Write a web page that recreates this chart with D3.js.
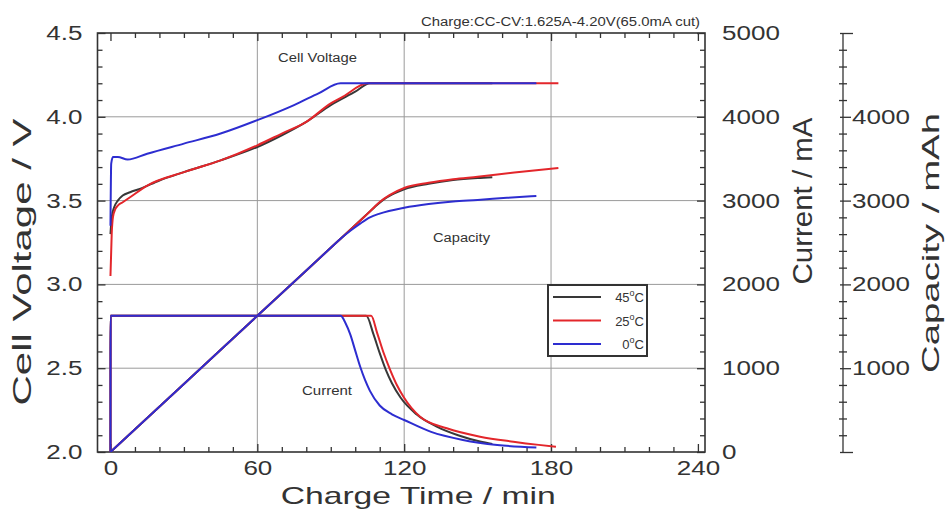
<!DOCTYPE html>
<html>
<head>
<meta charset="utf-8">
<script src="https://cdn.jsdelivr.net/npm/d3@7"></script>
<style>
  body { margin: 0; background: #fff; }
  text { font-family: "Liberation Sans", Arial, sans-serif; fill: #333; }
</style>
</head>
<body>
<div id="chart"></div>
<script>
// series: [time (min), value]
const volt45 = [[0,3.30],[0.5,3.40],[1.5,3.46],[3,3.50],[5,3.53],[8,3.55],[12,3.57],[20,3.62],[30,3.67],[45,3.74],[60,3.82],[70,3.89],[80,3.97],[90,4.07],[100,4.15],[106,4.2],[156,4.2]];
const volt25 = [[0,3.05],[0.5,3.30],[1,3.40],[2,3.45],[3,3.47],[5,3.49],[8,3.52],[15,3.59],[30,3.67],[45,3.74],[60,3.83],[70,3.90],[80,3.97],[90,4.08],[95,4.12],[105,4.2],[183,4.2]];
const volt0  = [[0,3.35],[0.3,3.72],[1,3.76],[3,3.76],[7,3.745],[15,3.78],[30,3.84],[45,3.90],[60,3.98],[75,4.07],[85,4.14],[94,4.2],[174,4.2]];

const cap45 = [[0,0],[30,812],[60,1625],[90,2437],[104,2816],[108,2925],[112,3020],[116,3085],[120,3135],[130,3200],[140,3245],[150,3270],[156,3280]];
const cap25 = [[0,0],[30,812],[60,1625],[90,2437],[106,2870],[110,2983],[114,3065],[120,3150],[130,3212],[140,3255],[150,3285],[165,3335],[183,3390]];
const cap0  = [[0,0],[30,812],[60,1625],[90,2437],[94,2545],[98,2640],[102,2725],[106,2800],[110,2845],[120,2915],[130,2960],[140,2990],[150,3008],[162,3033],[174,3055]];

const cur45 = [[0,0],[0.05,1625],[104.5,1625],[107.5,1400],[110,1180],[112.5,980],[115,820],[118.5,650],[125,450],[133.5,300],[142,200],[151,125],[156,95]];
const cur25 = [[0,0],[0.05,1625],[106.5,1625],[109,1416],[111.5,1190],[114.3,978],[117,800],[119.7,660],[126.5,421],[137.4,283],[151,183],[164.6,123],[175,85],[182,63]];
const cur0  = [[0,0],[0.05,1625],[94,1625],[96,1540],[98,1400],[100,1210],[102,1020],[104,860],[106,730],[110,555],[115,450],[120,382],[131,240],[144,144],[158,84],[174,55]];

const legendLabels = ["45", "25", "0"];
const seriesColors = ["#383838", "#e3262b", "#2d2dd0"];

const voltTicks = [2.0, 2.5, 3.0, 3.5, 4.0, 4.5];
const timeTicks = [0, 60, 120, 180, 240];
const currentTicks = [0, 1000, 2000, 3000, 4000, 5000];
const capacityTicks = [1000, 2000, 3000, 4000];

const width = 946, height = 513;
const pLeft = 97.5, pRight = 705, pTop = 33, pBottom = 452;

const svg = d3.select("#chart").append("svg")
    .attr("width", width)
    .attr("height", height);

const x = d3.scaleLinear().domain([-5.3, 242.9]).range([pLeft, pRight]);
const yV = d3.scaleLinear().domain([2.0, 4.5]).range([pBottom, pTop]);
const yC = d3.scaleLinear().domain([0, 5000]).range([pBottom, pTop]);

// stretch text horizontally, the original lettering is wide
function widen(sel, k) {
    sel.each(function () {
        const len = this.getComputedTextLength();
        d3.select(this).attr("textLength", len * k).attr("lengthAdjust", "spacingAndGlyphs");
    });
}

// grid
const grid = svg.append("g").attr("stroke", "#9a9a9a").attr("stroke-width", 1);
grid.selectAll(".gx").data([60, 120, 180]).join("line")
    .attr("x1", d => x(d)).attr("x2", d => x(d)).attr("y1", pTop).attr("y2", pBottom);
grid.selectAll(".gy").data([2.5, 3.0, 3.5, 4.0]).join("line")
    .attr("x1", pLeft).attr("x2", pRight).attr("y1", d => yV(d)).attr("y2", d => yV(d));

// axes
function styleAxis(g) {
    g.select(".domain").remove();
    g.selectAll(".tick line").attr("stroke", "#333").attr("stroke-width", 1.3);
    g.selectAll("text").attr("font-size", 20).style("fill", "#333");
}
const minorT = d3.range(0, 241, 10).filter(d => d % 60 !== 0);
const minorV = d3.range(20, 46, 1).filter(d => d % 5 !== 0).map(d => d / 10);
const minorC = d3.range(0, 5001, 200).filter(d => d % 1000 !== 0);
const intFmt = d3.format("d");

svg.append("g").attr("transform", `translate(0,${pBottom})`)
    .call(d3.axisBottom(x).tickValues(timeTicks).tickFormat(intFmt).tickSizeInner(-8).tickSizeOuter(0).tickPadding(9))
    .call(styleAxis);
svg.append("g").attr("transform", `translate(0,${pBottom})`)
    .call(d3.axisBottom(x).tickValues(minorT).tickSize(-5).tickFormat(""))
    .call(styleAxis);
svg.append("g").attr("transform", `translate(0,${pTop})`)
    .call(d3.axisTop(x).tickValues(timeTicks).tickSize(-8).tickFormat(""))
    .call(styleAxis);
svg.append("g").attr("transform", `translate(0,${pTop})`)
    .call(d3.axisTop(x).tickValues(minorT).tickSize(-5).tickFormat(""))
    .call(styleAxis);

svg.append("g").attr("transform", `translate(${pLeft},0)`)
    .call(d3.axisLeft(yV).tickValues(voltTicks).tickFormat(d3.format(".1f")).tickSizeInner(-8).tickSizeOuter(0).tickPadding(15))
    .call(styleAxis);
svg.append("g").attr("transform", `translate(${pLeft},0)`)
    .call(d3.axisLeft(yV).tickValues(minorV).tickSize(-5).tickFormat(""))
    .call(styleAxis);

svg.append("g").attr("transform", `translate(${pRight},0)`)
    .call(d3.axisRight(yC).tickValues(currentTicks).tickFormat(intFmt).tickSizeInner(-8).tickSizeOuter(0).tickPadding(17))
    .call(styleAxis);
svg.append("g").attr("transform", `translate(${pRight},0)`)
    .call(d3.axisRight(yC).tickValues(minorC).tickSize(-5).tickFormat(""))
    .call(styleAxis);

// separate capacity axis
const capX = 843;
svg.append("line").attr("x1", capX).attr("x2", capX).attr("y1", yC(0)).attr("y2", yC(5000))
    .attr("stroke", "#333").attr("stroke-width", 1.3);
svg.append("g").attr("transform", `translate(${capX},0)`)
    .call(d3.axisRight(yC).tickValues(capacityTicks).tickFormat(intFmt).tickSizeInner(8).tickSizeOuter(0).tickPadding(1))
    .call(styleAxis);
svg.append("g").attr("transform", `translate(${capX},0)`)
    .call(d3.axisRight(yC).tickValues([0, 5000]).tickSize(10).tickFormat(""))
    .call(styleAxis);
svg.append("g").attr("transform", `translate(${capX},0)`)
    .call(d3.axisLeft(yC).tickValues([0, 1000, 2000, 3000, 4000, 5000]).tickSize(3).tickFormat(""))
    .call(styleAxis);
svg.append("g").attr("transform", `translate(${capX - 4},0)`)
    .call(d3.axisRight(yC).tickValues(minorC).tickSize(8).tickFormat(""))
    .call(styleAxis);

svg.selectAll(".tick text").call(widen, 1.3);

// frame
svg.append("rect").attr("x", pLeft).attr("y", pTop).attr("width", pRight - pLeft).attr("height", pBottom - pTop)
    .attr("fill", "none").attr("stroke", "#333").attr("stroke-width", 1.6);

// curves
svg.append("clipPath").attr("id", "clip").append("rect")
    .attr("x", pLeft).attr("y", pTop).attr("width", pRight - pLeft).attr("height", pBottom - pTop);
const plot = svg.append("g").attr("clip-path", "url(#clip)");

const lineV = d3.line().x(d => x(d[0])).y(d => yV(d[1])).curve(d3.curveMonotoneX);
const lineC = d3.line().x(d => x(d[0])).y(d => yC(d[1])).curve(d3.curveMonotoneX);

const groups = [
    { gen: lineC, data: [cur45, cur25, cur0] },
    { gen: lineC, data: [cap45, cap25, cap0] },
    { gen: lineV, data: [volt45, volt25, volt0] }
];
groups.forEach(grp => {
    grp.data.forEach((s, i) => {
        plot.append("path").datum(s).attr("d", grp.gen)
            .attr("fill", "none").attr("stroke", seriesColors[i]).attr("stroke-width", 2);
    });
});

// annotations
function note(txt, px, py, size, len) {
    svg.append("text").attr("x", px).attr("y", py).attr("font-size", size)
        .attr("textLength", len).attr("lengthAdjust", "spacingAndGlyphs").text(txt);
}
note("Charge:CC-CV:1.625A-4.20V(65.0mA cut)", 421, 26, 12, 279);
note("Cell Voltage", 278, 62, 12, 79);
note("Capacity", 433, 242, 12, 57);
note("Current", 302, 395, 12, 50);

// axis titles
svg.append("text").attr("x", (x(0) + x(240)) / 2 + 14).attr("y", 504)
    .attr("text-anchor", "middle").attr("font-size", 24)
    .attr("textLength", 275).attr("lengthAdjust", "spacingAndGlyphs")
    .text("Charge Time  /  min");

function vtitle(txt, px, py, size, len) {
    svg.append("text")
        .attr("transform", `translate(${px},${py}) rotate(-90)`)
        .attr("text-anchor", "middle").attr("font-size", size)
        .attr("textLength", len).attr("lengthAdjust", "spacingAndGlyphs")
        .text(txt);
}
vtitle("Cell Voltage  /  V", 31, 262, 25, 287);
vtitle("Current  /  mA", 812, 201, 27, 167);
vtitle("Capacity  /  mAh", 939, 243, 24, 260);

// legend
const lg = svg.append("g");
lg.append("rect").attr("x", 548).attr("y", 285).attr("width", 99).attr("height", 71)
    .attr("fill", "#fff").attr("stroke", "#333").attr("stroke-width", 2);
legendLabels.forEach((lab, i) => {
    const ly = 297 + i * 23.5;
    lg.append("line").attr("x1", 553).attr("x2", 601).attr("y1", ly).attr("y2", ly)
        .attr("stroke", seriesColors[i]).attr("stroke-width", 2);
    const t = lg.append("text").attr("x", 644).attr("y", ly + 5).attr("text-anchor", "end").attr("font-size", 13);
    t.append("tspan").text(lab);
    t.append("tspan").attr("font-size", 9).attr("dy", -6).text("o");
    t.append("tspan").attr("dy", 6).text("C");
});
</script>
</body>
</html>
